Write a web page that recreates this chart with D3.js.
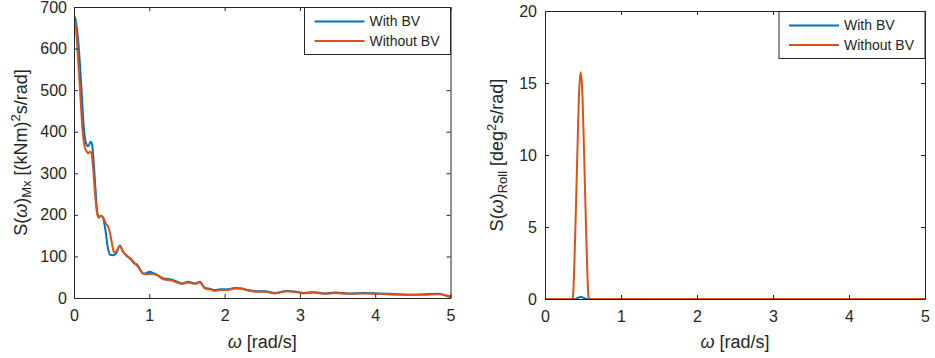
<!DOCTYPE html>
<html>
<head>
<meta charset="utf-8">
<script src="https://cdn.jsdelivr.net/npm/d3@7"></script>
<style>
	body { margin: 0; background: #fff; }
	svg text { font-family: "Liberation Sans", Arial, Helvetica, sans-serif; fill: #262626; }
</style>
</head>
<body>
<svg id="chart" width="935" height="358"></svg>
<script>
// series names + colours (matlab defaults)
var seriesNames = ['With BV', 'Without BV'];
var seriesColors = ['#0072BD', '#D95319'];

// left panel: S(w) of Mx, [freq, value]
var mxWithBV = [
	[0, 678], [0.02, 670], [0.06, 610], [0.10, 500], [0.13, 410], [0.16, 372], [0.19, 365],
	[0.22, 376], [0.24, 370], [0.26, 330], [0.29, 250], [0.31, 205], [0.33, 195], [0.36, 198],
	[0.39, 190], [0.42, 160], [0.45, 120], [0.48, 104], [0.52, 103], [0.56, 108], [0.61, 126],
	[0.65, 112], [0.70, 101], [0.75, 94], [0.80, 83], [0.84, 80], [0.88, 68], [0.92, 58],
	[0.96, 60], [1.01, 63], [1.05, 60], [1.10, 56], [1.19, 47], [1.30, 44], [1.36, 40],
	[1.43, 35], [1.52, 39], [1.61, 35], [1.67, 39], [1.74, 24], [1.81, 22], [1.87, 19],
	[1.94, 21], [2.03, 21], [2.14, 24], [2.23, 23], [2.31, 19], [2.43, 16], [2.54, 16],
	[2.67, 12], [2.82, 17], [2.96, 15], [3.05, 12], [3.18, 14], [3.33, 11], [3.47, 13],
	[3.64, 11], [3.86, 12], [4.04, 11], [4.31, 9], [4.48, 8], [4.66, 9], [4.84, 10],
	[4.95, 6], [5.00, 3]
];
var mxWithoutBV = [
	[0, 667], [0.02, 658], [0.045, 600], [0.08, 500], [0.115, 400], [0.14, 365], [0.17, 352],
	[0.19, 348], [0.21, 352], [0.23, 350], [0.25, 320], [0.28, 250], [0.31, 200], [0.33, 193],
	[0.36, 198], [0.39, 193], [0.42, 180], [0.455, 171], [0.48, 155], [0.51, 125], [0.53, 110],
	[0.56, 112], [0.61, 125], [0.65, 112], [0.70, 102], [0.75, 95], [0.80, 85], [0.85, 75],
	[0.90, 62], [0.95, 57], [1.00, 58], [1.05, 58], [1.10, 55], [1.19, 45], [1.30, 42],
	[1.36, 38], [1.43, 34], [1.52, 37], [1.61, 34], [1.67, 38], [1.74, 23], [1.81, 21],
	[1.87, 17], [1.94, 19], [2.03, 19], [2.14, 23], [2.23, 22], [2.31, 18], [2.43, 15],
	[2.54, 15], [2.67, 11], [2.82, 16], [2.96, 14], [3.05, 11], [3.18, 13], [3.33, 10],
	[3.47, 12], [3.64, 10], [3.86, 11], [4.04, 10], [4.31, 8], [4.48, 8], [4.66, 8],
	[4.84, 9], [4.95, 5], [5.00, 2]
];

// right panel: S(w) of roll
var rollWithBV = [
	[0, 0], [0.40, 0], [0.44, 0.1], [0.47, 0.15], [0.50, 0.1], [0.54, 0], [5.00, 0]
];
var rollWithoutBV = [
	[0, 0], [0.36, 0], [0.37, 0.3], [0.395, 4], [0.425, 10], [0.45, 14.5], [0.47, 15.75],
	[0.49, 14.5], [0.515, 10], [0.545, 4], [0.57, 0.3], [0.58, 0], [5.00, 0]
];

// tick values
var freqTicks = [0, 1, 2, 3, 4, 5];
var mxTicks = [0, 100, 200, 300, 400, 500, 600, 700];
var rollTicks = [0, 5, 10, 15, 20];

var svg = d3.select('#chart');
var fmt = d3.format('d');

function panel(box, yMax, yTicks, series, labelBits, id) {
	var x = d3.scaleLinear().domain([0, 5]).range([box.x0, box.x1]);
	var y = d3.scaleLinear().domain([0, yMax]).range([box.y1, box.y0]);

	svg.append('clipPath').attr('id', 'clip' + id)
		.append('rect')
		.attr('x', box.x0).attr('y', box.y0)
		.attr('width', box.x1 - box.x0).attr('height', box.y1 - box.y0);

	var line = d3.line()
		.x(d => x(d[0]))
		.y(d => y(d[1]))
		.curve(d3.curveMonotoneX);

	var g = svg.append('g');

	// lines - blue first, orange on top
	series.forEach(function(s, i) {
		g.append('path')
			.attr('d', line(s))
			.attr('fill', 'none')
			.attr('stroke', seriesColors[i])
			.attr('stroke-width', 2)
			.attr('stroke-linejoin', 'round')
			.attr('clip-path', 'url(#clip' + id + ')');
	});

	// box axes, ticks inside
	var bottom = g.append('g').attr('transform', `translate(0,${box.y1})`)
		.call(d3.axisBottom(x).tickValues(freqTicks).tickFormat(fmt).tickSize(-4).tickSizeOuter(0).tickPadding(12));
	var left = g.append('g').attr('transform', `translate(${box.x0},0)`)
		.call(d3.axisLeft(y).tickValues(yTicks).tickFormat(fmt).tickSize(-4).tickSizeOuter(0).tickPadding(box.pad));
	var top = g.append('g').attr('transform', `translate(0,${box.y0})`)
		.call(d3.axisTop(x).tickValues(freqTicks).tickSize(-4).tickSizeOuter(0).tickFormat(''));
	var right = g.append('g').attr('transform', `translate(${box.x1},0)`)
		.call(d3.axisRight(y).tickValues(yTicks).tickSize(-4).tickSizeOuter(0).tickFormat(''));

	[bottom, left, top, right].forEach(function(a) {
		a.selectAll('path, line').attr('stroke', '#262626').attr('stroke-width', 1);
		a.selectAll('text').attr('font-size', 16).attr('fill', '#262626')
			.style('font-family', '"Liberation Sans", Arial, sans-serif');
	});

	// x label
	var xl = g.append('text')
		.attr('x', (box.x0 + box.x1) / 2)
		.attr('y', 348)
		.attr('text-anchor', 'middle')
		.attr('font-size', 18);
	xl.append('tspan').attr('font-style', 'italic').text('ω');
	xl.append('tspan').text(' [rad/s]');

	// y label with sub/superscripts
	var cy = (box.y0 + box.y1) / 2;
	var yl = g.append('text')
		.attr('transform', `translate(${box.ylx},${cy}) rotate(-90)`)
		.attr('text-anchor', 'middle')
		.attr('font-size', 18);
	yl.append('tspan').text('S(');
	yl.append('tspan').attr('font-style', 'italic').text('ω');
	yl.append('tspan').text(')');
	yl.append('tspan').attr('font-size', 13).attr('dy', 4).text(labelBits.sub);
	yl.append('tspan').attr('dy', -4).text(' [' + labelBits.pre);
	yl.append('tspan').attr('font-size', 13).attr('dy', -7).text('2');
	yl.append('tspan').attr('dy', 7).text('s/rad]');

	// legend, pinned to top right corner
	var lw = 146, lh = 47;
	var lg = g.append('g').attr('transform', `translate(${box.x1 - lw},${box.y0 + 0.5})`);
	lg.append('rect')
		.attr('width', lw).attr('height', lh)
		.attr('fill', '#fff')
		.attr('stroke', '#262626')
		.attr('stroke-width', 1);
	seriesNames.forEach(function(name, i) {
		var ly = 14 + i * 19.5;
		lg.append('line')
			.attr('x1', 10).attr('x2', 60)
			.attr('y1', ly).attr('y2', ly)
			.attr('stroke', seriesColors[i])
			.attr('stroke-width', 2);
		lg.append('text')
			.attr('x', 65).attr('y', ly)
			.attr('dy', '0.35em')
			.attr('font-size', 14)
			.text(name);
	});
}

panel({ x0: 74, x1: 450.5, y0: 7, y1: 298, pad: 7, ylx: 27 }, 700, mxTicks,
	[mxWithBV, mxWithoutBV], { sub: 'Mx', pre: '(kNm)' }, 'mx');

panel({ x0: 545, x1: 925, y0: 11, y1: 299, pad: 8, ylx: 503 }, 20, rollTicks,
	[rollWithBV, rollWithoutBV], { sub: 'Roll', pre: 'deg' }, 'roll');
</script>
</body>
</html>
